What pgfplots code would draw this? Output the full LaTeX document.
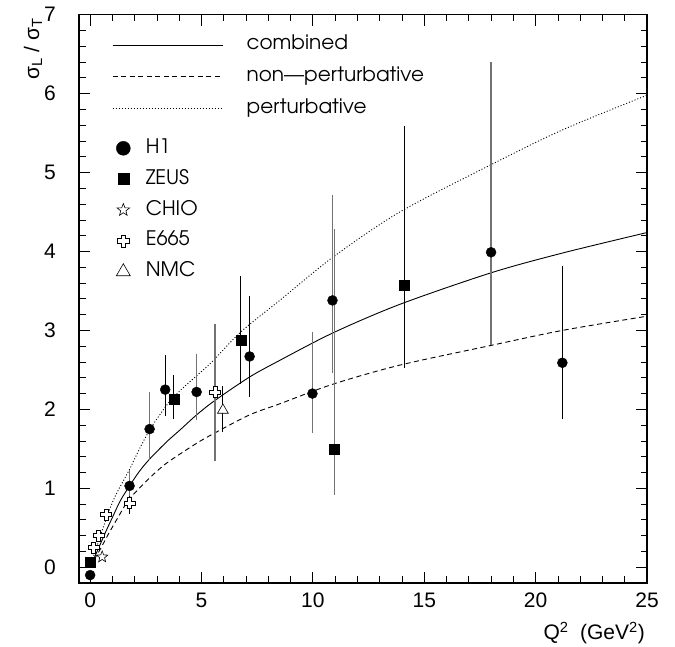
\documentclass[border=0pt]{standalone}
\usepackage{pgfplots}
\pgfplotsset{compat=1.18}
\usepackage{fontspec}
\setmainfont{Liberation Sans}
\newfontfamily\legfont{TeX Gyre Adventor}

\pgfdeclareplotmark{ostar}{%
  \pgfpathmoveto{\pgfpointpolar{90}{\pgfplotmarksize}}%
  \pgfpathlineto{\pgfpointpolar{126}{0.42\pgfplotmarksize}}%
  \pgfpathlineto{\pgfpointpolar{162}{\pgfplotmarksize}}%
  \pgfpathlineto{\pgfpointpolar{198}{0.42\pgfplotmarksize}}%
  \pgfpathlineto{\pgfpointpolar{234}{\pgfplotmarksize}}%
  \pgfpathlineto{\pgfpointpolar{270}{0.42\pgfplotmarksize}}%
  \pgfpathlineto{\pgfpointpolar{306}{\pgfplotmarksize}}%
  \pgfpathlineto{\pgfpointpolar{342}{0.42\pgfplotmarksize}}%
  \pgfpathlineto{\pgfpointpolar{18}{\pgfplotmarksize}}%
  \pgfpathlineto{\pgfpointpolar{54}{0.42\pgfplotmarksize}}%
  \pgfpathclose
  \pgfusepathqfillstroke}

\pgfdeclareplotmark{ocross}{%
  \pgfmathsetlengthmacro\mR{\pgfplotmarksize}%
  \pgfmathsetlengthmacro\mW{0.36\pgfplotmarksize}%
  \pgfpathmoveto{\pgfpoint{\mW}{\mR}}%
  \pgfpathlineto{\pgfpoint{\mW}{\mW}}%
  \pgfpathlineto{\pgfpoint{\mR}{\mW}}%
  \pgfpathlineto{\pgfpoint{\mR}{-\mW}}%
  \pgfpathlineto{\pgfpoint{\mW}{-\mW}}%
  \pgfpathlineto{\pgfpoint{\mW}{-\mR}}%
  \pgfpathlineto{\pgfpoint{-\mW}{-\mR}}%
  \pgfpathlineto{\pgfpoint{-\mW}{-\mW}}%
  \pgfpathlineto{\pgfpoint{-\mR}{-\mW}}%
  \pgfpathlineto{\pgfpoint{-\mR}{\mW}}%
  \pgfpathlineto{\pgfpoint{-\mW}{\mW}}%
  \pgfpathlineto{\pgfpoint{-\mW}{\mR}}%
  \pgfpathclose
  \pgfusepathqfillstroke}

\pgfplotsset{
  base/.style={at={(79pt,64pt)}, anchor=south west, scale only axis,
    width=568pt, height=568.3pt, xmin=-0.5, xmax=25, ymin=-0.2, ymax=7},
  ebar/.style 2 args={error bars/.cd, y dir=both, y explicit, error mark=none,
    error bar style={#1, line width=#2}},
}

\begin{document}
\begin{tikzpicture}
\useasboundingbox (0,0) rectangle (675pt,647pt);
\begin{axis}[base,
  xtick={0,5,...,25}, ytick={0,1,...,7},
  minor x tick num=4, minor y tick num=4,
  tick align=inside, major tick length=11pt, minor tick length=6.5pt,
  axis line style={line width=1.6pt},
  tick style={line width=0.8pt, black},
  /pgf/number format/assume math mode=true,
  ticklabel style={font=\fontsize{21}{21}\selectfont},
  xticklabel style={inner sep=0pt, anchor=north, yshift=-10pt},
  yticklabel style={inner sep=0pt, anchor=east, xshift=-23pt},
  xlabel={Q\textsuperscript{2}\hspace{0.55em}(GeV\textsuperscript{2})},
  xlabel style={at={(axis description cs:0.9965,-0.1003)}, anchor=base east,
    inner sep=0pt, font=\fontsize{21}{21}\selectfont},
  ylabel={σ\textsubscript{L} / σ\textsubscript{T}},
  ylabel style={at={(axis description cs:-0.0704,0.9397)}, anchor=base,
    inner sep=0pt, font=\fontsize{21}{21}\selectfont},
  legend cell align=left,
  legend image code/.code={\draw[#1] (0pt,0pt) -- (110pt,0pt);},
  legend style={at={(axis description cs:0.0586,0.9643)}, anchor=north west,
    draw=none, fill=none, inner sep=0pt, outer sep=0pt,
    row sep=11.7pt, column sep=23.5pt,
    font=\legfont\fontsize{20}{20}\selectfont,
    nodes={inner sep=0pt, text height=15pt, text depth=5pt}},
]
\addplot[black, line width=0.9pt, smooth] coordinates {
(0,0) (0.25,0.16) (0.5,0.32) (0.75,0.48) (1.0,0.63) (1.35,0.84) (1.77,1.03)
(2.2,1.21) (2.67,1.37) (3.44,1.59) (4.0,1.73) (4.78,1.93) (5.59,2.11)
(7.16,2.41) (8.51,2.62) (10.91,2.97) (13.9,3.33) (18,3.73) (21.2,3.98) (25,4.24)};
\addlegendentry{combined}
\addplot[black, line width=0.9pt, dash pattern=on 5pt off 3.5pt, smooth] coordinates {
(0,0) (0.25,0.13) (0.5,0.25) (0.78,0.40) (1.25,0.63) (1.75,0.86) (2.67,1.13)
(3.44,1.32) (4.78,1.57) (5.59,1.70) (7.16,1.93) (8.51,2.07) (10.91,2.32)
(13.9,2.56) (18,2.81) (21.2,3.0) (25,3.18)};
\addlegendentry{non\textemdash perturbative}
\addplot[black, line width=0.9pt, dash pattern=on 1pt off 2pt, smooth] coordinates {
(0,0) (0.25,0.22) (0.5,0.43) (0.78,0.66) (1.0,0.82) (1.25,0.97) (1.75,1.23)
(2.2,1.49) (2.67,1.74) (3.1,1.92) (3.57,2.10) (4.2,2.28) (4.8,2.43) (5.5,2.61)
(6.76,2.98) (8.51,3.38) (10.91,3.93) (13.9,4.50) (18,5.10) (21.2,5.54) (25,5.98)};
\addlegendentry{perturbative}

% H1, gray error bars
\addplot[only marks, mark=*, mark size=5pt, black, forget plot, ebar={black!55}{1.5pt}]
 table[x=x, y=y, y error plus=ep, y error minus=em, row sep=\\] {
 x y ep em \\
 1.77 1.03 0.20 0.20 \\
 2.67 1.75 0.47 0.39 \\
 4.78 2.22 0.48 0.35 \\
 9.98 2.20 0.78 0.50 \\
 10.88 3.38 1.33 0.92 \\
 18.0 3.99 2.41 1.18 \\
};
% H1, black error bars
\addplot[only marks, mark=*, mark size=5pt, black, forget plot, ebar={black}{0.9pt}]
 table[x=x, y=y, y error plus=ep, y error minus=em, row sep=\\] {
 x y ep em \\
 0.0 -0.10 0.0 0.0 \\
 3.37 2.25 0.44 0.34 \\
 7.16 2.67 0.77 0.51 \\
 21.2 2.59 1.23 0.71 \\
};
% ZEUS, black error bars
\addplot[only marks, mark=square*, mark size=5pt, black, forget plot, ebar={black}{0.9pt}]
 table[x=x, y=y, y error plus=ep, y error minus=em, row sep=\\] {
 x y ep em \\
 0.0 0.06 0.0 0.0 \\
 3.76 2.13 0.30 0.25 \\
 6.76 2.87 0.82 0.55 \\
 14.09 3.57 2.02 1.05 \\
};
% ZEUS, gray error bars
\addplot[only marks, mark=square*, mark size=5pt, black, forget plot, ebar={black!55}{1.5pt}]
 table[x=x, y=y, y error plus=ep, y error minus=em, row sep=\\] {
 x y ep em \\
 10.96 1.50 2.79 0.59 \\
};
% CHIO
\addplot[only marks, mark=ostar, mark size=6pt, black, forget plot,
  mark options={fill=white, line width=0.6pt}]
 table[x=x, y=y, row sep=\\] {
 x y \\
 0.54 0.13 \\
};
% E665, black error bars
\addplot[only marks, mark=ocross, mark size=5.5pt, black, forget plot,
  mark options={fill=white, line width=0.6pt}, ebar={black}{0.9pt}]
 table[x=x, y=y, y error plus=ep, y error minus=em, row sep=\\] {
 x y ep em \\
 0.16 0.25 0.04 0.04 \\
 0.37 0.40 0.05 0.05 \\
 0.72 0.67 0.06 0.06 \\
 1.77 0.81 0.09 0.13 \\
};
% E665, gray error bars
\addplot[only marks, mark=ocross, mark size=5.5pt, black, forget plot,
  mark options={fill=white, line width=0.6pt}, ebar={black!55}{1.5pt}]
 table[x=x, y=y, y error plus=ep, y error minus=em, row sep=\\] {
 x y ep em \\
 5.60 2.22 0.86 0.87 \\
};
% NMC
\addplot[only marks, mark=triangle*, mark size=6.2pt, black, forget plot,
  mark options={fill=white, line width=0.6pt}, ebar={black}{0.9pt}]
 table[x=x, y=y, y error plus=ep, y error minus=em, row sep=\\] {
 x y ep em \\
 5.96 1.99 0.30 0.28 \\
};
\end{axis}

\begin{axis}[base, hide axis,
  legend cell align=left,
  legend image code/.code={\draw[#1, only marks] plot coordinates {(0pt,0pt)};},
  legend style={at={(axis description cs:0.0657,0.7825)}, anchor=north west,
    draw=none, fill=none, inner sep=0pt, outer sep=0pt,
    row sep=10.85pt, column sep=15.5pt,
    font=\legfont\fontsize{20}{20}\selectfont,
    nodes={inner sep=0pt, text height=15pt, text depth=5pt}},
]
\addlegendimage{only marks, mark=*, mark size=7pt, black}
\addlegendentry{H1}
\addlegendimage{only marks, mark=square*, mark size=5.5pt, black}
\addlegendentry{ZEUS}
\addlegendimage{only marks, mark=ostar, mark size=6.5pt, black, mark options={fill=white, line width=0.6pt}}
\addlegendentry{CHIO}
\addlegendimage{only marks, mark=ocross, mark size=6pt, black, mark options={fill=white, line width=0.6pt}}
\addlegendentry{E665}
\addlegendimage{only marks, mark=triangle, mark size=8pt, black, mark options={fill=white, line width=0.6pt}}
\addlegendentry{NMC}
\end{axis}
\end{tikzpicture}
\end{document}
